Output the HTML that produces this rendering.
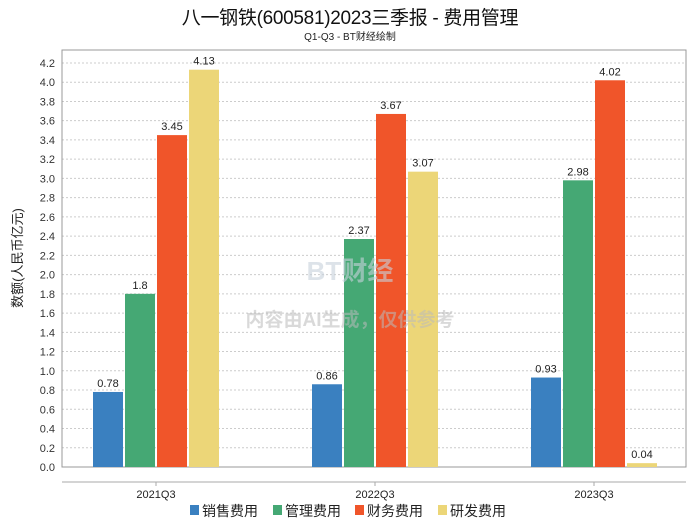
<!DOCTYPE html>
<html><head><meta charset="utf-8"><style>
body{margin:0;background:#fff;}
svg text{font-family:"Liberation Sans","Noto Sans CJK SC",sans-serif;}
</style></head><body>
<svg id="c" width="700" height="524" xmlns="http://www.w3.org/2000/svg">
<text x="350" y="24" text-anchor="middle" font-size="19" fill="#111" letter-spacing="-0.3">八一钢铁(600581)2023三季报 - 费用管理</text>
<text x="350" y="40" text-anchor="middle" font-size="10" fill="#222">Q1-Q3 - BT财经绘制</text>
<g id="grid"></g>
<rect x="62" y="50" width="624" height="417" fill="none" stroke="#999"/>
<line x1="62" y1="482" x2="686" y2="482" stroke="#aaa"/>
<g id="bars"></g>
<text x="350" y="280" text-anchor="middle" font-size="26" fill="#c8d2dc" opacity="0.6" font-weight="bold">BT财经</text>
<text x="350" y="326" text-anchor="middle" font-size="19" fill="#bbb" opacity="0.55" font-weight="bold">内容由AI生成，仅供参考</text>
<text transform="translate(22,258) rotate(-90)" text-anchor="middle" font-size="13" fill="#222">数额(人民币亿元)</text>
<g id="legend"></g>
</svg>
<script>
const categories=["2021Q3","2022Q3","2023Q3"];
const seriesNames=["销售费用","管理费用","财务费用","研发费用"];
const sales=[0.78,0.86,0.93];
const admin=[1.8,2.37,2.98];
const finance=[3.45,3.67,4.02];
const rnd=[4.13,3.07,0.04];
const labels=[["0.78","0.86","0.93"],["1.8","2.37","2.98"],["3.45","3.67","4.02"],["4.13","3.07","0.04"]];
const yTicks=[0,0.2,0.4,0.6,0.8,1.0,1.2,1.4,1.6,1.8,2.0,2.2,2.4,2.6,2.8,3.0,3.2,3.4,3.6,3.8,4.0,4.2];
const colors=["#3a80c0","#45a874","#f0552a","#ecd678"];
const NS="http://www.w3.org/2000/svg";
const y=v=>467-v*96.2;
const cx=i=>156+i*219;
function mk(t,a,p){const e=document.createElementNS(NS,t);for(const k in a)e.setAttribute(k,a[k]);p.appendChild(e);return e;}
const grid=document.getElementById('grid');
yTicks.forEach(v=>{
 const l=mk('line',{x1:62,x2:686,y1:y(v),y2:y(v),stroke:'#ccc','stroke-dasharray':'2,2'},grid);
 
 
 const t=mk('text',{x:55,y:y(v)+4,'text-anchor':'end','font-size':11,fill:'#333'},grid);
 t.textContent=v.toFixed(1);
 
 
});
const bars=document.getElementById('bars');
const all=[sales,admin,finance,rnd];
categories.forEach((c,i)=>{
 all.forEach((s,j)=>{
  const x=cx(i)-63+j*32;
  const r=mk('rect',{x:x,y:y(s[i]),width:30,height:467-y(s[i]),fill:colors[j]},bars);
  
  
  const t=mk('text',{x:x+15,y:y(s[i])-5,'text-anchor':'middle','font-size':11,fill:'#222'},bars);
  t.textContent=labels[j][i];
  
  
 });
 const tk=mk('line',{x1:cx(i),x2:cx(i),y1:482,y2:486,stroke:'#aaa'},bars);
 
 
 const xl=mk('text',{x:cx(i),y:489+9,'text-anchor':'middle','font-size':11,fill:'#222'},bars);
 xl.textContent=c;
 
 
});
const lg=document.getElementById('legend');
const lx=[190,273,355,438];
seriesNames.forEach((n,j)=>{
 const r=mk('rect',{x:lx[j],y:505,width:9,height:10,fill:colors[j]},lg);
 
 
 const t=mk('text',{x:lx[j]+12,y:516,'font-size':14,fill:'#222'},lg);
 t.textContent=n;
 
 
});
</script>
</body></html>
